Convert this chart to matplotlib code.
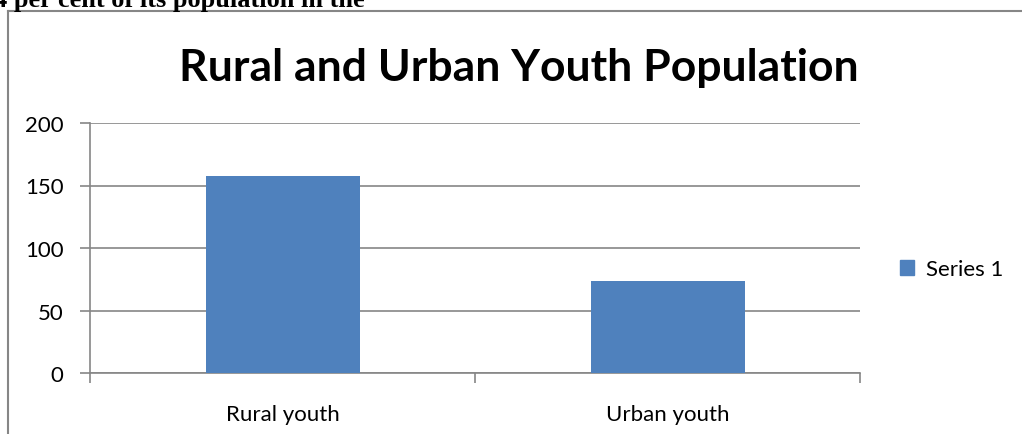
import matplotlib.pyplot as plt
from matplotlib.patches import Rectangle
from matplotlib.lines import Line2D

categories = ["Rural youth", "Urban youth"]
values = [158, 74]
series_name = "Series 1"
title = "Rural and Urban Youth Population"
y_ticks = [0, 50, 100, 150, 200]

bar_col = "#4f81bd"
grid_col = "#868686"
font = "Lato"

fig = plt.figure(figsize=(10.22, 4.35), dpi=100)
ax = fig.add_axes([90 / 1022, 1 - 374 / 435, 770 / 1022, 250 / 435])

x = range(len(categories))
bars = ax.bar(x, values, width=0.4, color=bar_col, zorder=3, label=series_name)

ax.set_xlim(-0.5, len(categories) - 0.5)
ax.set_ylim(0, 200)
ax.set_yticks(y_ticks)
ax.set_yticklabels([str(t) for t in y_ticks], fontsize=16, family=font)
ax.yaxis.grid(True, color=grid_col, linewidth=1.2, zorder=0)

# category labels centred, tick marks on category boundaries
ax.set_xticks([-0.5, 0.5, 1.5])
ax.set_xticklabels([])
ax.set_xticks(list(x), minor=True)
ax.set_xticklabels(categories, minor=True, fontsize=16, family=font)
ax.tick_params(axis="x", which="major", length=7, color=grid_col, width=1.2)
ax.tick_params(axis="x", which="minor", length=0, pad=22)
ax.tick_params(axis="y", length=7, color=grid_col, width=1.2, pad=12)

for side in ["top", "right"]:
    ax.spines[side].set_visible(False)
for side in ["left", "bottom"]:
    ax.spines[side].set_color(grid_col)
    ax.spines[side].set_linewidth(1.2)

fig.text(519 / 1022, 1 - 68 / 435, title, ha="center", va="center",
         fontsize=32, fontweight="bold", family=font)

fig.legend(handles=[Rectangle((0, 0), 1, 1, color=bar_col)], labels=[series_name],
           loc="center left", bbox_to_anchor=(880 / 1022, 1 - 270 / 435),
           frameon=False, prop={"family": font, "size": 16},
           handlelength=0.65, handleheight=0.65, handletextpad=0.5)

# outer frame of the embedded chart
fig.add_artist(Line2D([8 / 1022, 8 / 1022], [0, 1 - 12 / 435], transform=fig.transFigure,
                      color=grid_col, linewidth=1.5))
fig.add_artist(Line2D([8 / 1022, 1], [1 - 12 / 435, 1 - 12 / 435], transform=fig.transFigure,
                      color=grid_col, linewidth=1.5))

# surrounding document text cut off at the top
fig.text(-6 / 1022, 1 - 7 / 435, "4 per cent of its population in the", ha="left",
         va="baseline", fontsize=19, fontweight="bold", family="Liberation Serif")

fig.savefig("out.png", dpi=100)
